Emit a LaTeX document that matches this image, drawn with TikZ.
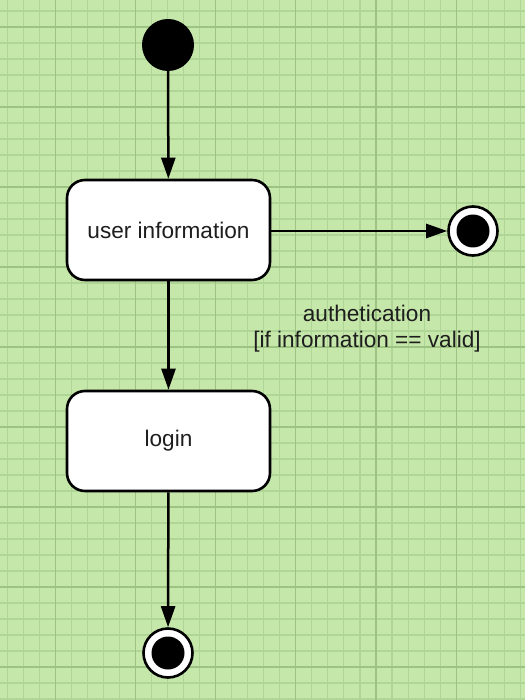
\documentclass[tikz,border=0pt]{standalone}
\usepackage{fontspec}
\setmainfont{Liberation Sans}
\usetikzlibrary{arrows.meta}

\definecolor{paper}{HTML}{C6E7AA}
\definecolor{minorline}{HTML}{B0D697}
\definecolor{majorline}{HTML}{9CC382}
\definecolor{inkgray}{HTML}{1E1E1E}

\tikzset{
  statebox/.style={draw=black, line width=2.6pt, fill=white, rounded corners=18pt,
    minimum width=203pt, minimum height=100pt, inner sep=0pt,
    font=\fontsize{22.6}{27}\selectfont, text=inkgray},
  initstate/.style={circle, fill=black, minimum size=52pt, inner sep=0pt},
  finalstate/.style={circle, draw=black, line width=2.6pt, fill=white,
    minimum size=49pt, inner sep=0pt,
    path picture={\fill[black] (path picture bounding box.center) circle (16.5pt);}},
  flow/.style={line width=2.5pt, -{Triangle[length=21pt,width=14pt]}},
  guard/.style={font=\fontsize{22.6}{26}\selectfont, text=inkgray, align=center}
}

\begin{document}
\begin{tikzpicture}[x=1pt,y=-1pt]
  \useasboundingbox (0,0) rectangle (525,700);
  % page and squared paper
  \begin{scope}
    \clip (0,0) rectangle (525,700);
    \fill[paper] (0,0) rectangle (525,700);
    \foreach \k in {0,...,34} {
      \draw[minorline, line width=1.1pt] ({-25+16.04*\k},0) -- ({-25+16.04*\k},700);
    }
    \foreach \k in {0,...,44} {
      \draw[minorline, line width=1.1pt] (0,{-5+16*\k}) -- (525,{-5+16*\k});
    }
    \foreach \k in {0,...,7} {
      \draw[majorline, line width=1.3pt] ({-25+80.2*\k},0) -- ({-25+80.2*\k},700);
    }
    \foreach \k in {0,...,9} {
      \draw[majorline, line width=1.3pt] (0,{27+80*\k}) -- (525,{27+80*\k});
    }
  \end{scope}

  % states
  \node[initstate] (start) at (168,45) {};
  \node[statebox] (info) at (168.5,230) {user information};
  \node[statebox] (login) at (168.5,441) {login};
  \node[finalstate] (endA) at (473,231) {};
  \node[finalstate] (endB) at (168,653) {};

  % transitions
  \draw[flow] (start) -- (info);
  \draw[flow] (info.east |- endA) -- (endA);
  \draw[flow] (info) -- (login);
  \draw[flow] (login) -- (endB);

  % guard label
  \node[guard] (cond) at (367,329) {authetication\\{}[if information == valid]};
\end{tikzpicture}
\end{document}
